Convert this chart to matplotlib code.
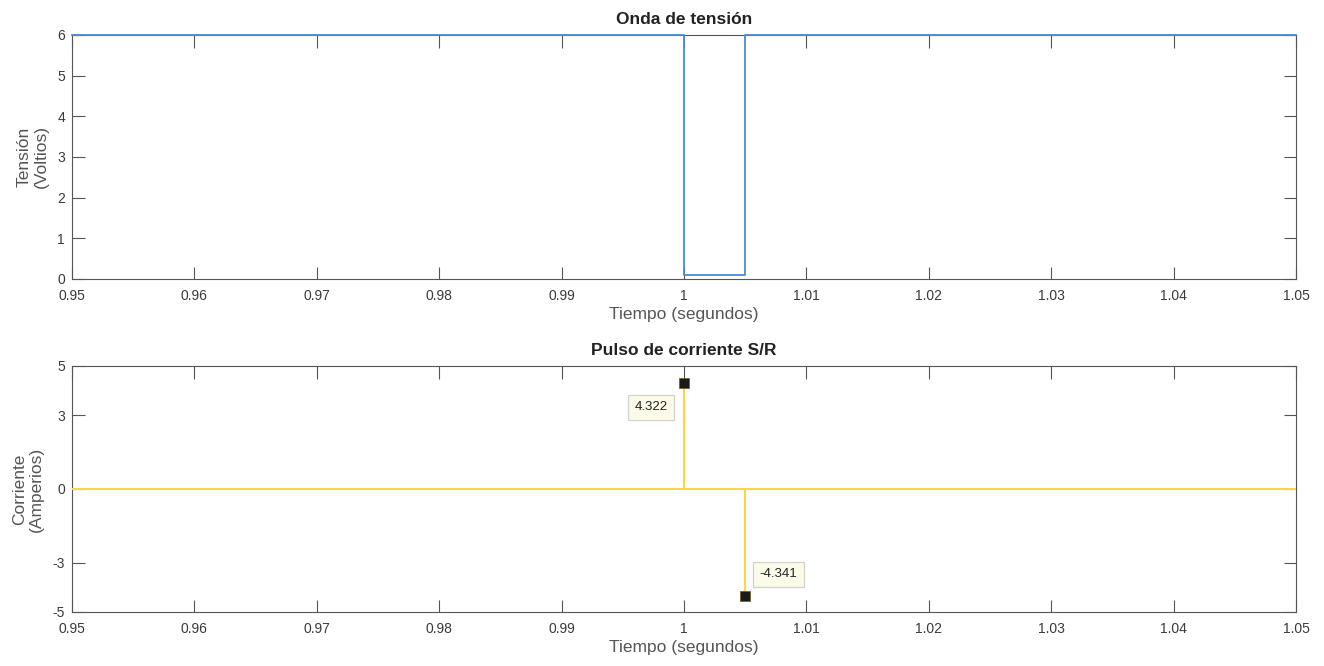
import numpy as np
import matplotlib.pyplot as plt

plt.rcParams['font.family'] = ['Liberation Sans', 'DejaVu Sans']
plt.rcParams['axes.unicode_minus'] = False

# datos
t_tension = [0.95, 1.0, 1.0, 1.005, 1.005, 1.05]
v_tension = [6, 6, 0.1, 0.1, 6, 6]

t_corriente = [0.95, 1.0, 1.0, 1.0, 1.005, 1.005, 1.005, 1.05]
i_corriente = [0, 0, 4.322, 0, 0, -4.341, 0, 0]

tips_t = [1.0, 1.005]
tips_i = [4.322, -4.341]
tips_txt = ['4.322', '-4.341']

xticks = [0.95, 0.96, 0.97, 0.98, 0.99, 1.0, 1.01, 1.02, 1.03, 1.04, 1.05]
xticklabels = ['0.95', '0.96', '0.97', '0.98', '0.99', '1', '1.01', '1.02', '1.03', '1.04', '1.05']

gris = '#555555'
txt = '#3a3a3a'

fig = plt.figure(figsize=(13.24, 6.66), dpi=100)
ax1 = fig.add_axes([0.0544, 0.5811, 0.9245, 0.3664])
ax2 = fig.add_axes([0.0544, 0.0811, 0.9245, 0.3694])


def estilo(ax):
    for s in ax.spines.values():
        s.set_color(gris)
        s.set_linewidth(0.8)
    ax.tick_params(direction='in', length=9, width=0.8, color=gris,
                   top=True, right=True, labelsize=10, labelcolor=txt)
    ax.tick_params(axis='x', pad=7)
    ax.tick_params(axis='y', pad=5)
    ax.set_xlim(0.95, 1.05)
    ax.set_xticks(xticks)
    ax.set_xticklabels(xticklabels)
    ax.set_xlabel('Tiempo (segundos)', fontsize=12.5, color=gris, labelpad=3)


# Onda de tension
ax1.plot(t_tension, v_tension, color='#4a8ad8', lw=1.3, clip_on=False, zorder=3)
ax1.set_ylim(0, 6)
ax1.set_yticks([0, 1, 2, 3, 4, 5, 6])
estilo(ax1)
ax1.set_ylabel('Tensión\n(Voltios)', fontsize=12.5, color=gris, labelpad=6)
ax1.set_title('Onda de tensión', fontsize=12.5, fontweight='bold', color='#222222', pad=8)

# Pulso de corriente
ax2.plot(t_corriente, i_corriente, color='#f9d648', lw=1.5, zorder=3)
ax2.set_ylim(-5, 5)
ax2.set_yticks([-5, -3, 0, 3, 5])
estilo(ax2)
ax2.set_ylabel('Corriente\n(Amperios)', fontsize=12.5, color=gris, labelpad=6)
ax2.set_title('Pulso de corriente S/R', fontsize=12.5, fontweight='bold', color='#222222', pad=8)

ax2.plot(tips_t, tips_i, 's', color='#1a1a1a', markersize=7.5, mec='#6b5a20', mew=0.5, zorder=5)
caja = dict(boxstyle='square,pad=0.5', fc='#fcfbe9', ec='#d2d2c6', lw=0.9)
ax2.annotate(tips_txt[0], (tips_t[0], tips_i[0]), xytext=(-12, -13.5),
             textcoords='offset points', ha='right', va='top', fontsize=9.5,
             color='#222222', bbox=caja)
ax2.annotate(tips_txt[1], (tips_t[1], tips_i[1]), xytext=(10.5, 11),
             textcoords='offset points', ha='left', va='bottom', fontsize=9.5,
             color='#222222', bbox=caja)

fig.savefig('out.png', dpi=100)
